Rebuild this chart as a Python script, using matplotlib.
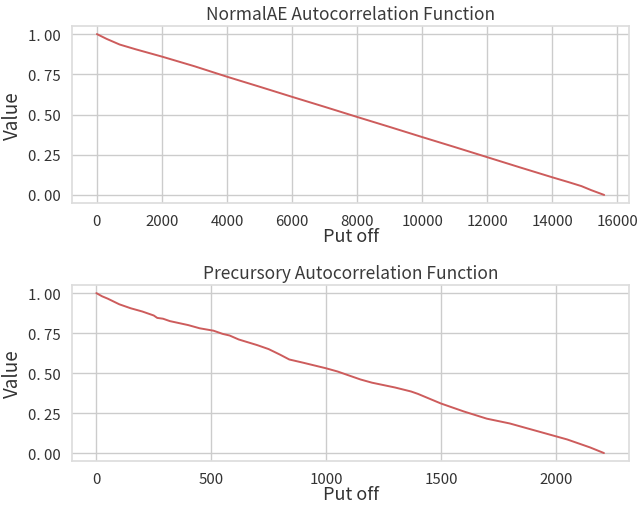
import matplotlib
matplotlib.use("Agg")
import matplotlib.pyplot as plt
import seaborn as sns

sns.set_theme(style="whitegrid")
plt.rcParams['font.family'] = ['Noto Sans CJK SC', 'DejaVu Sans']

normal_lag = [0, 300, 700, 1200, 2000, 3000, 4000, 5000, 6000, 7000, 8000, 9000, 10000,
              11000, 12000, 13000, 14000, 14500, 14900, 15200, 15600]
normal_val = [1.0, 0.97, 0.935, 0.905, 0.86, 0.80, 0.735, 0.673, 0.61, 0.548, 0.485,
              0.423, 0.36, 0.298, 0.235, 0.172, 0.11, 0.08, 0.055, 0.03, 0.0]

prec_lag = [0, 25, 50, 100, 150, 200, 250, 265, 290, 320, 400, 450, 510, 550, 580, 620,
            700, 750, 800, 840, 900, 1000, 1050, 1100, 1150, 1200, 1300, 1370, 1400,
            1450, 1500, 1600, 1700, 1800, 1900, 2000, 2050, 2100, 2150, 2210]
prec_val = [1.0, 0.98, 0.965, 0.93, 0.905, 0.885, 0.86, 0.845, 0.84, 0.825, 0.80, 0.78,
            0.765, 0.745, 0.735, 0.71, 0.675, 0.65, 0.615, 0.585, 0.565, 0.53, 0.51,
            0.485, 0.46, 0.44, 0.41, 0.385, 0.37, 0.34, 0.31, 0.26, 0.215, 0.185, 0.145,
            0.105, 0.085, 0.06, 0.035, 0.0]

yticks = [0.0, 0.25, 0.5, 0.75, 1.0]
ytick_labels = ["0. 00", "0. 25", "0. 50", "0. 75", "1. 00"]

fig = plt.figure(figsize=(6.39, 5.10), dpi=100)
ax1 = fig.add_axes([0.1127, 0.600, 0.872, 0.347])
ax2 = fig.add_axes([0.1127, 0.094, 0.872, 0.345])

color = "#cd5c5c"
for ax, x, y, title, xt in [
    (ax1, normal_lag, normal_val, "NormalAE Autocorrelation Function", [0, 2000, 4000, 6000, 8000, 10000, 12000, 14000, 16000]),
    (ax2, prec_lag, prec_val, "Precursory Autocorrelation Function", [0, 500, 1000, 1500, 2000]),
]:
    ax.plot(x, y, color=color, lw=1.4)
    ax.set_title(title, fontsize=12.5, color="#3a3a3a", pad=5)
    ax.set_xlabel("Put off", fontsize=13, color="#333333", labelpad=-1)
    ax.set_ylabel("Value", fontsize=13.5, color="#333333", labelpad=4)
    ax.set_yticks(yticks)
    ax.set_yticklabels(ytick_labels)
    ax.set_xticks(xt)
    ax.tick_params(labelsize=10.8, colors="#333333", pad=2)
    ax.set_ylim(-0.05, 1.05)
    for s in ax.spines.values():
        s.set_color("#dddddd")

ax1.set_xlim(-765, 16370)
ax2.set_xlim(-106, 2320)

fig.savefig("out.png", dpi=100)
